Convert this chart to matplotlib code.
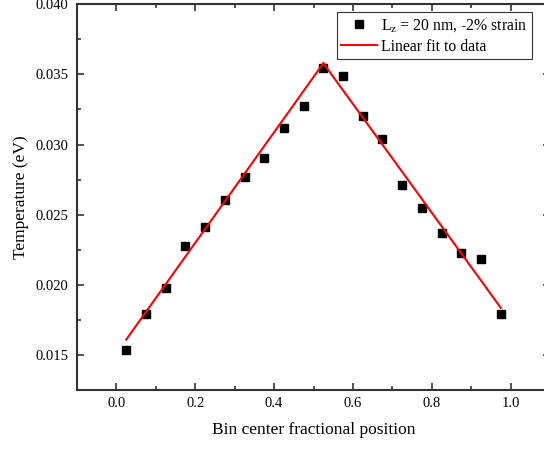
import numpy as np
import matplotlib.pyplot as plt
from matplotlib.ticker import MultipleLocator

plt.rcParams['font.family'] = ['Liberation Serif', 'DejaVu Serif']
plt.rcParams['mathtext.fontset'] = 'stix'

# bin centres and measured temperature
bin_center = [0.025, 0.075, 0.125, 0.175, 0.225, 0.275, 0.325, 0.375, 0.425, 0.475,
              0.525, 0.575, 0.625, 0.675, 0.725, 0.775, 0.825, 0.875, 0.925, 0.975]
temperature = [0.01538, 0.0179, 0.0198, 0.02278, 0.02411, 0.02602, 0.02768, 0.02904, 0.03116, 0.03276,
               0.03543, 0.03488, 0.03204, 0.03043, 0.02709, 0.02547, 0.02369, 0.02226, 0.02181, 0.01795]

# linear fits (two segments)
fit_x_left = [0.025, 0.525]
fit_y_left = [0.0161, 0.0358]
fit_x_right = [0.525, 0.975]
fit_y_right = [0.0358, 0.01836]

fig = plt.figure(figsize=(5.44, 4.5), dpi=100)
ax = fig.add_axes([77/544, 60/450, 473/544, 385.7/450])

ax.plot(bin_center, temperature, 's', color='black', ms=5.5, lw=0,
        label=r'$\mathregular{L_z}$ = 20 nm, -2% strain')
ax.plot(fit_x_left, fit_y_left, color='red', lw=1.5, label='Linear fit to data')
ax.plot(fit_x_right, fit_y_right, color='red', lw=1.5)

ax.set_xlim(-0.1, 1.1)
ax.set_ylim(0.0125, 0.040)
ax.xaxis.set_major_locator(MultipleLocator(0.2))
ax.xaxis.set_minor_locator(MultipleLocator(0.1))
ax.yaxis.set_major_locator(MultipleLocator(0.005))
ax.yaxis.set_minor_locator(MultipleLocator(0.0025))
ax.xaxis.set_major_formatter(plt.FormatStrFormatter('%.1f'))
ax.yaxis.set_major_formatter(plt.FormatStrFormatter('%.3f'))

ax.tick_params(which='both', direction='in', top=True, right=True, labelsize=10.5, color='#333333')
ax.tick_params(which='major', length=5, width=1.2)
ax.tick_params(which='minor', length=3, width=1.2)
ax.tick_params(axis='y', pad=6)
ax.tick_params(axis='x', pad=5)
for s in ax.spines.values():
    s.set_linewidth(1.5)
    s.set_color('#333333')

ax.set_xlabel('Bin center fractional position', fontsize=12.5, labelpad=9)
ax.set_ylabel('Temperature (eV)', fontsize=12.5, labelpad=5)

leg = ax.legend(loc='upper right', bbox_to_anchor=(531.7/544, 1 - 12.3/450),
                bbox_transform=fig.transFigure, fontsize=11.3, fancybox=False,
                edgecolor='#333333', framealpha=1, handlelength=2.3,
                handletextpad=0.2, labelspacing=0.3, borderaxespad=0, borderpad=0.3)
leg.get_frame().set_linewidth(0.8)

fig.savefig('out.png', dpi=100)
